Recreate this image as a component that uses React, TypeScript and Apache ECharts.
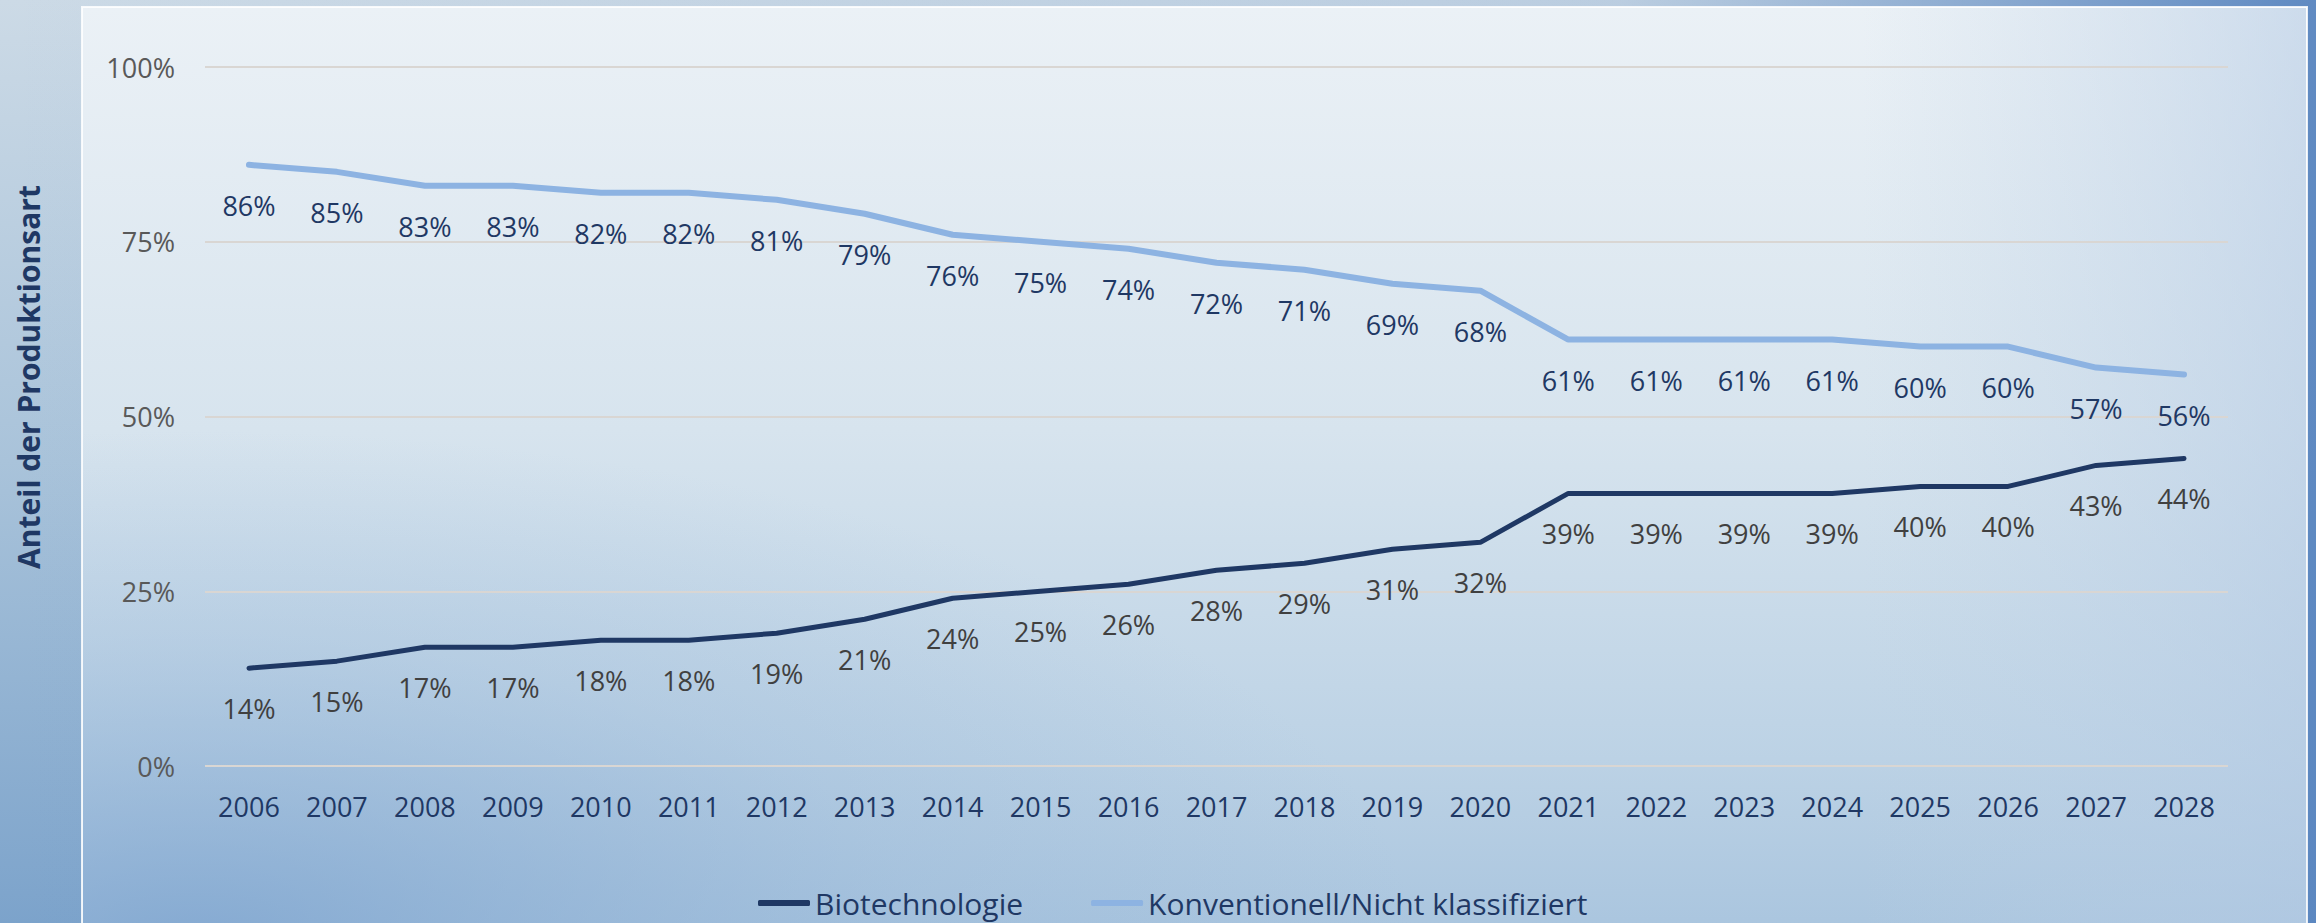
import React, { useEffect, useRef } from "react";
import * as echarts from "echarts";

const years = ["2006","2007","2008","2009","2010","2011","2012","2013","2014","2015","2016","2017","2018","2019","2020","2021","2022","2023","2024","2025","2026","2027","2028"];
const biotech = [14,15,17,17,18,18,19,21,24,25,26,28,29,31,32,39,39,39,39,40,40,43,44];
const konventionell = [86,85,83,83,82,82,81,79,76,75,74,72,71,69,68,61,61,61,61,60,60,57,56];
const yTicks = [0, 25, 50, 75, 100];

const FONT = "'Open Sans', 'Noto Sans', sans-serif";
const NAVY = "#1f3864";

export default function App() {
  const ref = useRef<HTMLDivElement>(null);
  useEffect(() => {
    if (!ref.current) return;
    const chart = echarts.init(ref.current, undefined, { renderer: "svg" });
    const W = 2316, H = 923;
    chart.setOption({
      animation: false,
      textStyle: { fontFamily: FONT },
      graphic: [
        {
          type: "rect", z: -10, silent: true,
          shape: { x: 0, y: 0, width: W, height: H },
          style: {
            fill: new echarts.graphic.LinearGradient(0, 0, 0, 1, [
              { offset: 0, color: "#ccdae6" },
              { offset: 0.5, color: "#a9c3da" },
              { offset: 1, color: "#7ca3cb" },
            ]),
          },
        },
        {
          type: "rect", z: -9, silent: true,
          shape: { x: 0, y: 0, width: W, height: H },
          style: {
            fill: new echarts.graphic.LinearGradient(0, 0, 1, 0, [
              { offset: 0, color: "rgba(90,134,192,0)" },
              { offset: 0.7, color: "rgba(90,134,192,0.15)" },
              { offset: 1, color: "rgba(90,134,192,0.95)" },
            ]),
          },
        },
        {
          type: "rect", z: -8, silent: true,
          shape: { x: 82, y: 7, width: 2225, height: 940 },
          style: {
            fill: new echarts.graphic.LinearGradient(0, 0, 0, 1, [
              { offset: 0, color: "#ebf1f6" },
              { offset: 0.45, color: "#d7e4ee" },
              { offset: 0.8, color: "#bcd2e5" },
              { offset: 1, color: "#a8c4de" },
            ]),
            stroke: "rgba(255,255,255,0.85)",
            lineWidth: 2,
          },
        },
        {
          type: "rect", z: -7, silent: true,
          shape: { x: 83, y: 8, width: 2223, height: 938 },
          style: {
            fill: new echarts.graphic.RadialGradient(0.05, 1, 0.55, [
              { offset: 0, color: "rgba(120,160,205,0.75)" },
              { offset: 0.6, color: "rgba(140,175,212,0.25)" },
              { offset: 1, color: "rgba(140,175,212,0)" },
            ]),
          },
        },
        {
          type: "rect", z: -6, silent: true,
          shape: { x: 83, y: 8, width: 2223, height: 938 },
          style: {
            fill: new echarts.graphic.LinearGradient(0, 0, 1, 0, [
              { offset: 0, color: "rgba(190,210,230,0)" },
              { offset: 0.8, color: "rgba(190,210,230,0)" },
              { offset: 1, color: "rgba(180,202,228,0.55)" },
            ]),
          },
        },
        {
          type: "text", z: 10,
          x: 28, y: 377, rotation: Math.PI / 2,
          style: {
            text: "Anteil der Produktionsart",
            fill: NAVY,
            font: `bold 30px ${FONT}`,
            textAlign: "center",
            textVerticalAlign: "middle",
          },
        },
      ],
      grid: { left: 205, right: 88, top: 67, bottom: 157, containLabel: false },
      legend: {
        left: 753,
        top: 883,
        itemWidth: 52,
        itemHeight: 6,
        itemGap: 68,
        icon: "roundRect",
        textStyle: { color: NAVY, fontSize: 30, fontFamily: FONT },
        data: ["Biotechnologie", "Konventionell/Nicht klassifiziert"],
      },
      xAxis: {
        type: "category",
        data: years,
        boundaryGap: true,
        axisLine: { show: false },
        axisTick: { show: false },
        axisLabel: { color: NAVY, fontSize: 27, margin: 27, fontFamily: FONT },
      },
      yAxis: {
        type: "value",
        min: yTicks[0],
        max: yTicks[yTicks.length - 1],
        interval: 25,
        axisLine: { show: false },
        axisTick: { show: false },
        axisLabel: { color: "#595959", fontSize: 27, margin: 30, formatter: "{value}%", fontFamily: FONT },
        splitLine: { lineStyle: { color: "#d9d6d3", width: 2 } },
      },
      series: [
        {
          name: "Biotechnologie",
          type: "line",
          data: biotech,
          showSymbol: true,
          symbol: "circle",
          symbolSize: 0,
          lineStyle: { color: NAVY, width: 5, cap: "round" },
          itemStyle: { color: NAVY },
          label: {
            show: true, position: "bottom", distance: 27,
            formatter: "{c}%", color: "#404040", fontSize: 27, fontFamily: FONT,
          },
        },
        {
          name: "Konventionell/Nicht klassifiziert",
          type: "line",
          data: konventionell,
          showSymbol: true,
          symbol: "circle",
          symbolSize: 0,
          lineStyle: { color: "#8db3e2", width: 6, cap: "round" },
          itemStyle: { color: "#8db3e2" },
          label: {
            show: true, position: "bottom", distance: 27,
            formatter: "{c}%", color: NAVY, fontSize: 27, fontFamily: FONT,
          },
        },
      ],
    });
    return () => chart.dispose();
  }, []);
  return <div ref={ref} style={{ width: 2316, height: 923, position: "absolute", left: 0, top: 0 }} />;
}
